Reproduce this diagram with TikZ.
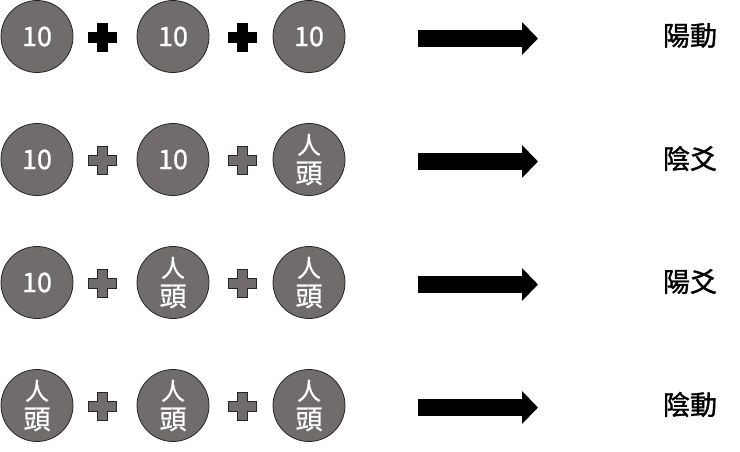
\documentclass[tikz,border=0pt]{standalone}
\usepackage{fontspec}
\setmainfont{Noto Sans CJK TC}
\newfontfamily\coinfont{Noto Sans CJK TC}[FakeBold=0.8]
\newfontfamily\yaofont{Noto Sans CJK TC}[FakeBold=1.3]
\usetikzlibrary{arrows.meta,positioning}
\definecolor{coingrey}{RGB}{112,108,108}
\newcommand\rentou{\fontsize{24}{29}\selectfont 人\\頭}
\tikzset{%
  every coin/.style={
    circle,
    draw=black!85,
    line width=0.8pt,
    fill=coingrey,
    minimum size=72pt,
    inner sep=0pt,
    align=center,
    text=white,
    font=\coinfont\fontsize{27}{29}\selectfont
  },
  plus black/.style={fill=black, draw=black},
  plus grey/.style={fill=coingrey, draw=black!85, line width=0.8pt},
  plus/.pic={
    \path[pic actions] (-5,-14) -- (5,-14) -- (5,-5) -- (14,-5) -- (14,5) -- (5,5)
      -- (5,14) -- (-5,14) -- (-5,5) -- (-14,5) -- (-14,-5) -- (-5,-5) -- cycle;
  },
  big arrow/.style={line width=17pt, -{Triangle[length=16pt,width=32pt]}},
  yao/.style={font=\yaofont\fontsize{27}{27}\selectfont},
}
\begin{document}
\begin{tikzpicture}[x=1pt, y=-1pt]
  \useasboundingbox (0,0) rectangle (740,451);
  \foreach \a/\b/\c/\p/\l [count=\r] in {10/10/10/plus black/陽動,
      10/10/\rentou/plus grey/陰爻,
      10/\rentou/\rentou/plus grey/陽爻,
      \rentou/\rentou/\rentou/plus grey/陰動}
  {
    \pgfmathsetmacro\y{36.5+(\r-1)*123}
    \node [every coin] (coin-\r-1) at (37,\y) {\a};
    \node [every coin] (coin-\r-2) at (173,\y) {\b};
    \node [every coin] (coin-\r-3) at (309,\y) {\c};
    \pic [\p] at (102,\y+1) {plus};
    \pic [\p] at (242,\y+1) {plus};
    \coordinate (arrow-start-\r) at (418,\y+2);
    \coordinate (arrow-end-\r) at (538,\y+2);
    \draw [big arrow] (arrow-start-\r) -- (arrow-end-\r);
    \node [yao] (yao-\r) at (690,\y-1) {\l};
  }
\end{tikzpicture}
\end{document}
